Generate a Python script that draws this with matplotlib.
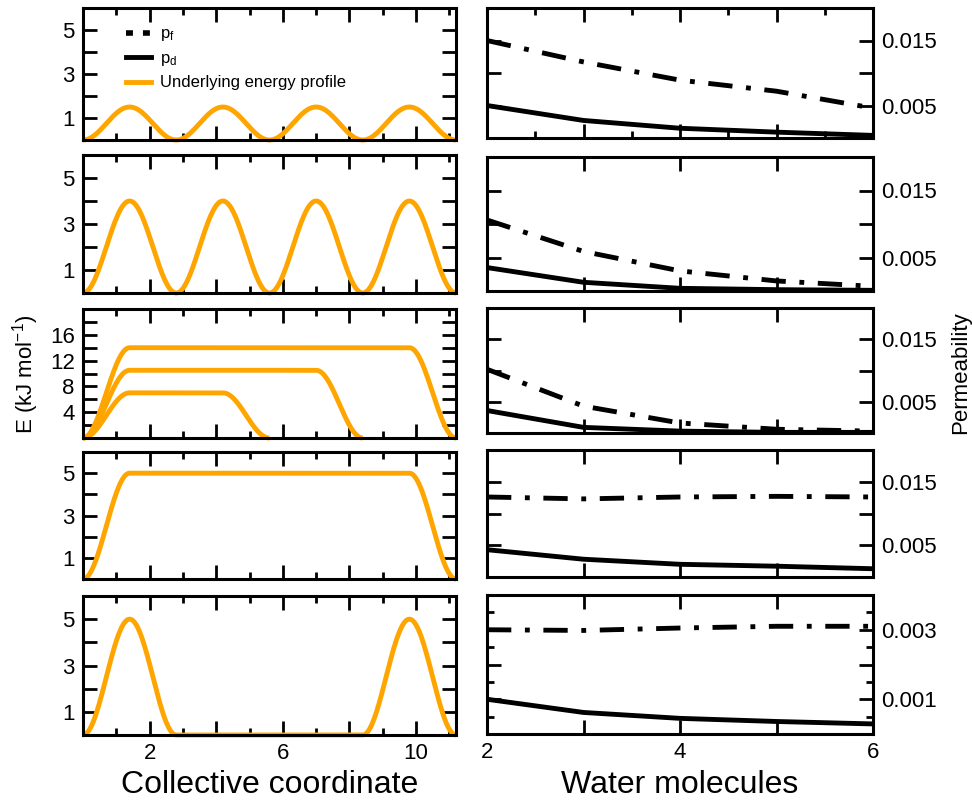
import numpy as np
import matplotlib.pyplot as plt
from matplotlib.lines import Line2D

plt.rcParams['font.family'] = ['Liberation Sans', 'DejaVu Sans']
plt.rcParams['mathtext.default'] = 'regular'

# permeabilities vs number of water molecules (one row per panel)
water = [2, 3, 4, 5, 6]
pf = [
    [0.0150, 0.0117, 0.0089, 0.0072, 0.0046],
    [0.0106, 0.0059, 0.0030, 0.0015, 0.0007],
    [0.0102, 0.0043, 0.0016, 0.0006, 0.0003],
    [0.0126, 0.0123, 0.0126, 0.0127, 0.0126],
    [0.00300, 0.00298, 0.00305, 0.00310, 0.00310],
]
pd = [
    [0.0050, 0.0027, 0.0015, 0.0009, 0.0004],
    [0.0035, 0.0013, 0.0004, 0.0002, 0.0001],
    [0.0036, 0.0009, 0.0003, 0.0001, 0.0001],
    [0.0043, 0.0028, 0.0020, 0.0017, 0.0013],
    [0.00100, 0.00062, 0.00045, 0.00036, 0.00029],
]
perm_ymax = [0.02, 0.02, 0.02, 0.02, 0.004]

# underlying energy profiles (kJ/mol) along the collective coordinate
period = 2.8          # one barrier
n_periods = 4
length = period * n_periods
ramp = period / 2
periodic_barriers = [1.5, 4.0]           # panels 1 and 2
plateau_heights = [7.0, 10.5, 14.0]      # panel 3
plateau_ends = [5.6, 8.4, 11.2]
wide_plateau = 5.0                       # panel 4
end_barrier = 5.0                        # panel 5
energy_ymax = [6, 6, 20, 6, 6]

orange = '#FFA500'
lw = 3.5


def bump(x, h, width):
    return h / 2 * (1 - np.cos(2 * np.pi * x / width))


def periodic_profile(h):
    x = np.linspace(0, length, 800)
    return x, bump(x, h, period)


def plateau_profile(h, end):
    x = np.linspace(0, end, 800)
    y = np.full_like(x, h)
    up = x < ramp
    y[up] = bump(x[up], h, period)
    down = x > end - ramp
    y[down] = bump(end - x[down], h, period)
    return x, y


def end_barrier_profile(h):
    x = np.linspace(0, length, 800)
    y = np.zeros_like(x)
    a = x < period
    y[a] = bump(x[a], h, period)
    b = x > length - period
    y[b] = bump(length - x[b], h, period)
    return x, y


profiles = [
    [periodic_profile(periodic_barriers[0])],
    [periodic_profile(periodic_barriers[1])],
    [plateau_profile(h, e) for h, e in zip(plateau_heights, plateau_ends)],
    [plateau_profile(wide_plateau, length)],
    [end_barrier_profile(end_barrier)],
]

W, H = 972, 800
fig = plt.figure(figsize=(W / 100, H / 100), dpi=100)


def px_axes(x0, x1, y0, y1):
    return fig.add_axes([x0 / W, 1 - y1 / H, (x1 - x0) / W, (y1 - y0) / H])


left_rows = [(8, 140), (155, 293), (309, 438), (452, 579), (596, 735)]
right_rows = [(8, 138), (157, 291), (308, 433), (450, 577), (595, 734)]

tick_kw = dict(direction='in', top=True, right=True, width=2, labelsize=16)

for i in range(5):
    # left: energy profile
    ax = px_axes(83, 456, *left_rows[i])
    for x, y in profiles[i]:
        ax.plot(x, y, color=orange, lw=lw, clip_on=False, solid_capstyle='butt')
    ax.set_xlim(0, length)
    ax.set_ylim(0, energy_ymax[i])
    ax.set_xticks([2, 4, 6, 8, 10])
    ax.set_xticks([1, 3, 5, 7, 9, 11], minor=True)
    if i == 4:
        ax.set_xticklabels(['2', '', '6', '', '10'])
    else:
        ax.set_xticklabels([])
    if energy_ymax[i] == 20:
        ax.set_yticks(range(2, 20, 2))
        ax.set_yticklabels(['', '4', '', '8', '', '12', '', '16', ''])
    else:
        ax.set_yticks([1, 2, 3, 4, 5])
        ax.set_yticklabels(['1', '', '3', '', '5'])
    ax.tick_params(which='major', length=10, pad=6, **tick_kw)
    ax.tick_params(which='minor', length=5, **tick_kw)
    for s in ax.spines.values():
        s.set_linewidth(2.2)

    if i == 0:
        handles = [
            Line2D([], [], color='black', lw=4, linestyle=(0, (1.25, 1.8))),
            Line2D([], [], color='black', lw=lw),
            Line2D([], [], color=orange, lw=lw),
        ]
        labels = ['p$_{f}$', 'p$_{d}$', 'Underlying energy profile']
        ax.legend(handles, labels, loc='upper left', bbox_to_anchor=(0.115, 0.86),
                  frameon=False, fontsize=12, handlelength=1.5, handletextpad=0.55,
                  labelspacing=0.45, borderpad=0, borderaxespad=0)

    # right: permeability
    ax2 = px_axes(487, 873, *right_rows[i])
    ax2.plot(water, pf[i], color='black', lw=lw, linestyle=(0, (5, 2.8, 1, 2.8)))
    ax2.plot(water, pd[i], color='black', lw=lw, solid_capstyle='butt')
    ax2.set_xlim(2, 6)
    ax2.set_ylim(0, perm_ymax[i])
    ax2.set_xticks([2, 3, 4, 5, 6])
    if i == 0:
        ax2.set_xticks([2.5, 3.5, 4.5, 5.5], minor=True)
    if i == 4:
        ax2.set_xticklabels(['2', '', '4', '', '6'])
        ax2.set_yticks([0.001, 0.002, 0.003])
        ax2.set_yticks([0.0005, 0.0015, 0.0025, 0.0035], minor=True)
        ax2.set_yticklabels(['0.001', '', '0.003'])
    else:
        ax2.set_xticklabels([])
        ax2.set_yticks([0.005, 0.010, 0.015])
        ax2.set_yticklabels(['0.005', '', '0.015'])
    ax2.tick_params(which='major', length=10, pad=6, labelleft=False,
                    labelright=True, **tick_kw)
    ax2.tick_params(which='minor', length=5, **tick_kw)
    for s in ax2.spines.values():
        s.set_linewidth(2.2)

fig.text(270 / W, 1 - 793 / H, 'Collective coordinate', fontsize=23,
         ha='center', va='baseline')
fig.text(680 / W, 1 - 793 / H, 'Water molecules', fontsize=23,
         ha='center', va='baseline')
fig.text(26 / W, 1 - 374 / H, 'E (kJ mol$^{-1}$)', fontsize=16,
         rotation=90, ha='center', va='center')
fig.text(961 / W, 1 - 373 / H, 'Permeability', fontsize=16,
         rotation=90, ha='center', va='center')

fig.savefig('out.png', dpi=100)
